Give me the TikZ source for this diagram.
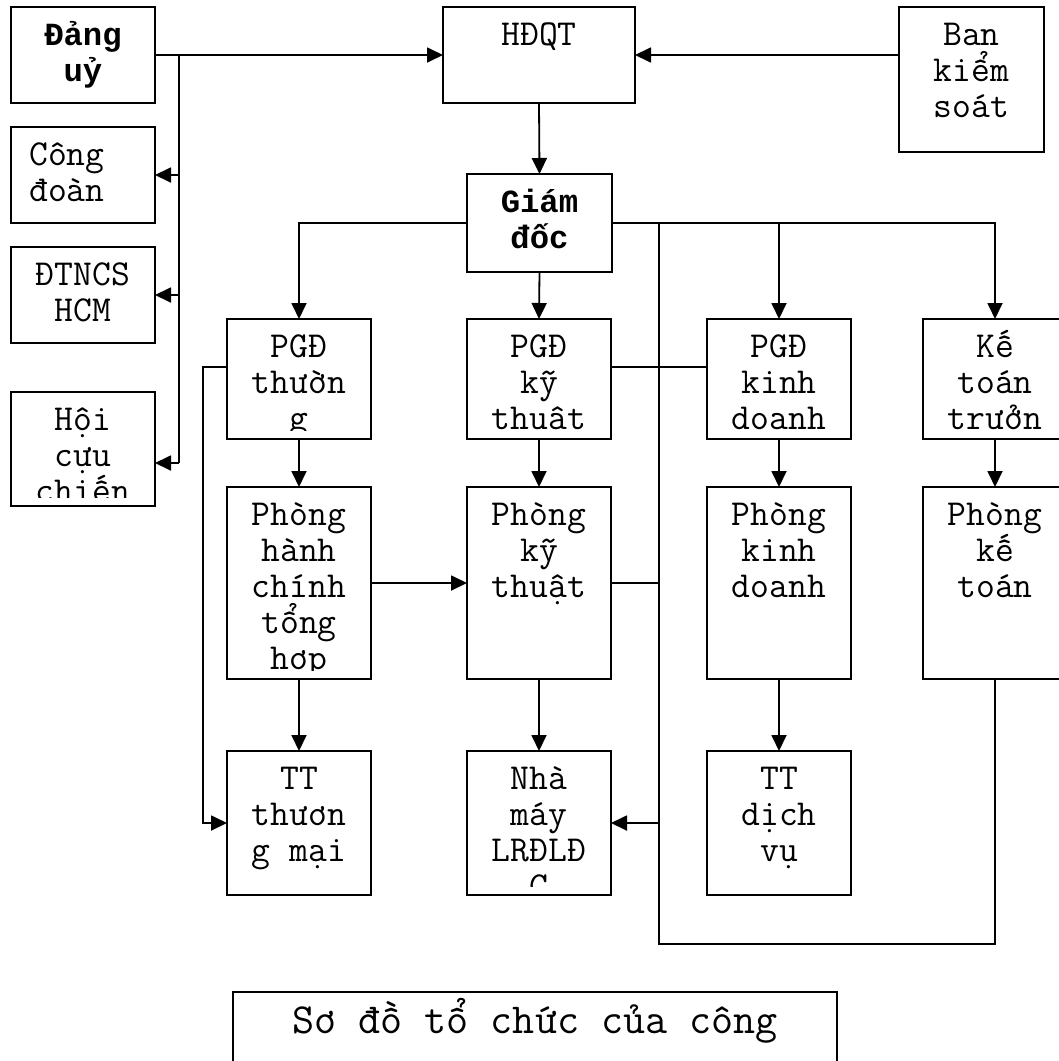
\documentclass[tikz,border=0pt]{standalone}
\usepackage{fontspec}
\newfontfamily\heavymono{Liberation Mono}
\usetikzlibrary{arrows.meta}

% \orgbox[text options]{name}{x1}{y1}{x2}{y2}{line1,line2,...}
% Draws a framed box and sets its lines, clipped to the box interior.
\newcommand\orgbox[7][]{%
  \node[box, minimum width={(#5-#3)*1bp}, minimum height={(#6-#4)*1bp}] (#2) at (#3,#4) {};
  \begin{scope}
    \clip (#3,#4) rectangle (#5,#6-9);
    \foreach \ln [count=\i] in {#7}
      \node[txt,#1] at ({(#3+#5)/2}, {#4+38+36*(\i-1)}) {\ln};
  \end{scope}}

\begin{document}
\begin{tikzpicture}[x=1bp,y=-1bp,
  box/.style={draw, line width=1.8bp, inner sep=0pt, outer sep=0pt, anchor=north west},
  txt/.style={anchor=base, inner sep=0pt, font=\ttfamily\fontsize{36.7}{36.1}\selectfont},
  boldtxt/.style={font=\heavymono\fontsize{32.4}{36.1}\selectfont\bfseries},
  link/.style={line width=1.8bp},
  arr/.style={link, -{Triangle[length=16bp,width=15bp]}}]

\useasboundingbox (0,0) rectangle (1059,1061);
\clip (0,0) rectangle (1059,1061);

% left column
\orgbox[boldtxt]{dang}{11}{7}{155}{103}{Đảng,uỷ}
\orgbox[anchor=base west, xshift=-54bp]{cong}{11}{127}{155}{223}{Công,đoàn}
\orgbox{dtn}{11}{247}{155}{343}{ĐTNCS,HCM}
\orgbox{hoi}{11}{392}{155}{506}{Hội,cựu,chiến}

% top row
\orgbox{hdqt}{443}{7}{635}{103}{HĐQT}
\orgbox{bks}{899}{7}{1044}{152}{Ban,kiểm,soát}
\orgbox[boldtxt]{gd}{467}{174}{612}{272}{Giám,đốc}

% deputies
\orgbox{pgd1}{227}{319}{371}{439}{PGĐ,thườn,g}
\orgbox{pgd2}{467}{319}{611}{439}{PGĐ,kỹ,thuật}
\orgbox{pgd3}{707}{319}{851}{439}{PGĐ,kinh,doanh}
\orgbox{kt1}{923}{319}{1067}{439}{Kế,toán,trưởn}

% departments
\orgbox{phc}{227}{487}{371}{679}{Phòng,hành,chính,tổng,hợp}
\orgbox{pkt}{467}{487}{611}{679}{Phòng,kỹ,thuật}
\orgbox{pkd}{707}{487}{851}{679}{Phòng,kinh,doanh}
\orgbox{kt2}{923}{487}{1067}{679}{Phòng,kế,toán}

% units
\orgbox{ttm}{227}{751}{371}{895}{TT,thươn,g mại}
\orgbox{nm}{467}{751}{611}{895}{Nhà,máy,LRĐLĐ,C}
\orgbox{dv}{707}{751}{851}{895}{TT,dịch,vụ}

% caption
\node[box, minimum width=604bp, minimum height=120bp] (cap) at (233,992) {};
\node[txt, font=\ttfamily\fontsize{43}{48}\selectfont] (captext) at (535,1033) {Sơ đồ tổ chức của công};

% party committee links
\coordinate (trtop) at (179,55);
\coordinate (trbot) at (179,463);
\draw[arr] (dang.east) -- (hdqt.west);
\draw[link] (trtop) -- (trbot);
\draw[arr] (trtop |- cong.east) -- (cong.east);
\draw[arr] (trtop |- dtn.east) -- (dtn.east);
\draw[arr] (trbot) -- (trbot -| hoi.east);

% board and director
\draw[arr] (bks.west |- hdqt.east) -- (hdqt.east);
\draw[arr] (hdqt.south) -- (gd.north);
\draw[arr] (gd.west) -| (pgd1.north);
\draw[arr] (gd.east) -| (kt1.north);
\draw[arr] (gd.east -| pgd3.north) -- (pgd3.north);
\draw[arr] (gd.south) -- (pgd2.north);

% director's bus line down the middle
\coordinate (busT) at (659,223);
\coordinate (busB) at (659,944);
\draw[link] (busT) -- (busB) -| (kt2.south);
\draw[link] (pkt.east) -- (pkt.east -| busT);
\draw[arr] (busT |- nm.east) -- (nm.east);

% cross link between deputies
\coordinate (rowK) at (0,367);
\draw[link] (pgd2.east |- rowK) -- (pgd3.west |- rowK);

% left loop to the trade centre
\coordinate (loopL) at (203,367);
\draw[arr] (pgd1.west |- loopL) -- (loopL) |- (ttm.west);

% vertical chains
\draw[arr] (pgd1.south) -- (phc.north);
\draw[arr] (phc.south) -- (ttm.north);
\draw[arr] (pgd2.south) -- (pkt.north);
\draw[arr] (pkt.south) -- (nm.north);
\draw[arr] (pgd3.south) -- (pkd.north);
\draw[arr] (pkd.south) -- (dv.north);
\draw[arr] (kt1.south) -- (kt2.north);
\draw[arr] (phc.east) -- (pkt.west);
\end{tikzpicture}
\end{document}
